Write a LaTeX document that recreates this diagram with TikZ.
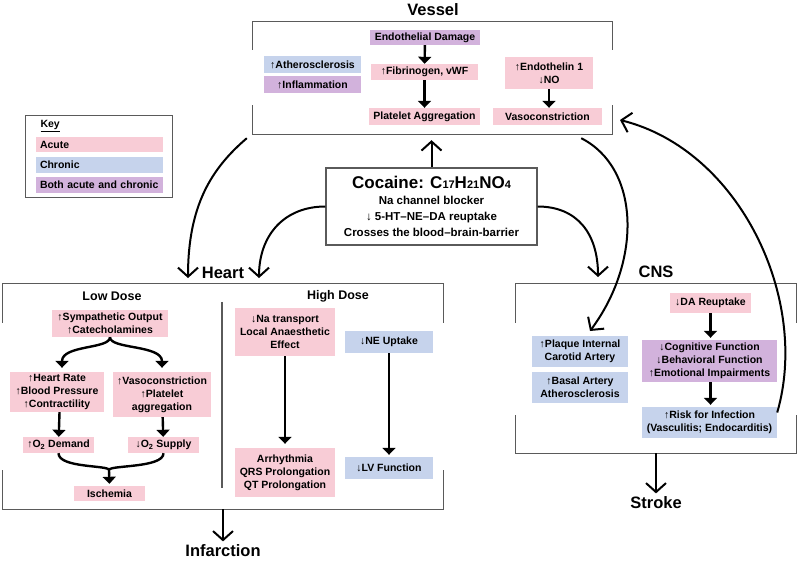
\documentclass[tikz,border=0pt]{standalone}
\usepackage{fontspec}
\setmainfont{Liberation Sans}
\usetikzlibrary{arrows.meta,calc,positioning}

\definecolor{acutecol}{RGB}{248,204,214}
\definecolor{chroncol}{RGB}{198,211,236}
\definecolor{bothcol}{RGB}{210,178,220}
\definecolor{panelcol}{RGB}{90,90,90}

\tikzset{
  tagbox/.style={inner xsep=4pt, inner ysep=2pt, minimum height=16pt, align=center,
    font=\bfseries\fontsize{10.5}{13}\selectfont},
  acute/.style={tagbox, fill=acutecol},
  chronic/.style={tagbox, fill=chroncol},
  both/.style={tagbox, fill=bothcol},
  panel/.style={draw=panelcol, line width=1.2pt},
  region/.style={inner sep=0pt},
  heading/.style={font=\bfseries\fontsize{16.5}{19}\selectfont},
  subheading/.style={font=\bfseries\fontsize{12.5}{14}\selectfont},
  flow/.style={-{Triangle[width=13pt,length=7pt]}, line width=2.4pt},
  bigflow/.style={-{Straight Barb[width=20pt,length=9pt]}, line width=2pt},
}

\begin{document}
\begin{tikzpicture}[x=1pt,y=-1pt]
  \useasboundingbox (0,0) rectangle (800,562);
  % regions
  \node[region, minimum width=359pt, minimum height=112pt] (vessel) at (432.5,78) {};
  \node[region, minimum width=440pt, minimum height=225pt] (heart) at (223,396.5) {};
  \node[region, minimum width=280pt, minimum height=169pt] (cns) at (656,368.5) {};
  \draw[panel] ([yshift=-28pt]vessel.north west) -- (vessel.north west) -- (vessel.north east) -- ([yshift=-28pt]vessel.north east);
  \draw[panel] ([yshift=29pt]vessel.south west) -- (vessel.south west) -- (vessel.south east) -- ([yshift=29pt]vessel.south east);
  \draw[panel] ([yshift=-39pt]heart.north west) -- (heart.north west) -- (heart.north east) -- ([yshift=-39pt]heart.north east);
  \draw[panel] ([yshift=39pt]heart.south west) -- (heart.south west) -- (heart.south east) -- ([yshift=39pt]heart.south east);
  \draw[panel] ([xshift=-1pt,yshift=-18pt]heart.north) -- ([xshift=-1pt,yshift=21pt]heart.south);
  \draw[panel] ([yshift=-39pt]cns.north west) -- (cns.north west) -- (cns.north east) -- ([yshift=-39pt]cns.north east);
  \draw[panel] ([yshift=38pt]cns.south west) -- (cns.south west) -- (cns.south east) -- ([yshift=38pt]cns.south east);
  \node[heading] (vesseltitle) at (433,10) {Vessel};
  \node[heading] (hearttitle) at (223,273) {Heart};
  \node[heading] (cnstitle) at (656,272) {CNS};
  \node[subheading] (lowtitle) at (112,296) {Low Dose};
  \node[subheading] (hightitle) at (338,296) {High Dose};

  % key
  \node[draw=panelcol, line width=1pt, minimum width=147pt, minimum height=82pt] (key) at (98.5,156) {};
  \node[anchor=west, font=\bfseries\fontsize{10.5}{12}\selectfont] (keytitle) at (37,126) {\underline{Key}};
  \node[acute, text width=119pt, align=left, minimum height=15pt] (keyacute) at (99.5,144.5) {Acute};
  \node[chronic, text width=119pt, align=left, minimum height=16pt] (keychronic) at (99.5,165) {Chronic};
  \node[both, text width=119pt, align=left, minimum height=16pt] (keyboth) at (99.5,185) {Both acute and chronic};

  % cocaine
  \node[panel, minimum width=211pt, minimum height=77pt, align=center,
    font=\bfseries\fontsize{11.5}{16}\selectfont] (cocaine) at (431.5,206.5)
    {{\fontsize{17}{18}\selectfont Cocaine: C{\fontsize{11}{11}\selectfont 17}H{\fontsize{11}{11}\selectfont 21}NO{\fontsize{11}{11}\selectfont 4}}\\
     Na channel blocker\\ ↓ 5-HT–NE–DA reuptake\\ Crosses the blood–brain-barrier};

  % vessel
  \node[both, minimum width=110pt, minimum height=15pt] (endo) at (425,37.5) {Endothelial Damage};
  \node[acute, minimum width=107pt] (fib) at (424.5,72) {↑Fibrinogen, vWF};
  \node[acute, minimum width=111pt, minimum height=17pt] (plat) at (424.5,116.5) {Platelet Aggregation};
  \node[chronic, minimum width=97pt, minimum height=17pt] (ather) at (312.5,64.5) {↑Atherosclerosis};
  \node[both, minimum width=97pt, minimum height=17pt] (infl) at (312.5,84.5) {↑Inflammation};
  \node[acute, minimum width=88pt, minimum height=32pt] (endot) at (549,73) {↑Endothelin 1\\↓NO};
  \node[acute, minimum width=109pt, minimum height=17pt] (vaso) at (547.5,116.5) {Vasoconstriction};
  \draw[flow] (endo) -- (fib);
  \draw[flow] (fib) -- (plat);
  \draw[flow] (endot.south) -- (endot.south |- vaso.north);

  % heart, low dose
  \node[acute, minimum width=116pt, minimum height=27pt] (symp) at (110,323.5) {↑Sympathetic Output\\↑Catecholamines};
  \node[acute, minimum width=94pt, minimum height=40pt] (hr) at (57,392) {↑Heart Rate\\↑Blood Pressure\\↑Contractility};
  \node[acute, minimum width=98pt, minimum height=45pt] (vc) at (162,394.5) {↑Vasoconstriction\\↑Platelet\\aggregation};
  \node[acute, minimum width=71pt] (o2d) at (58.5,445) {↑O\textsubscript{2} Demand};
  \node[acute, minimum width=71pt] (o2s) at (163.5,445) {↓O\textsubscript{2} Supply};
  \node[acute, minimum width=71pt, minimum height=15pt] (isch) at (109.5,493.5) {Ischemia};
  \coordinate (merge) at (109,470);
  \draw[flow, shorten >=4pt] (symp.south) .. controls +(0,12) and +(0,-27) .. ([xshift=5pt]hr.north);
  \draw[flow, shorten >=4pt] (symp.south) .. controls +(0,12) and +(0,-27) .. (vc.north);
  \draw[flow] ([xshift=1pt]hr.south -| o2d) -- (o2d);
  \draw[flow] (vc) -- (o2s);
  \draw[flow, shorten >=2pt] (o2d.south) .. controls +(0,15) and +(0,-5) .. (merge) -- (isch.north);
  \draw[line width=2.4pt] (o2s.south) .. controls +(0,15) and +(0,-5) .. (merge);

  % heart, high dose
  \node[acute, minimum width=100pt, minimum height=48pt] (na) at (285,332) {↓Na transport\\Local Anaesthetic\\Effect};
  \node[chronic, minimum width=88pt, minimum height=22pt] (ne) at (389,342) {↓NE Uptake};
  \node[acute, minimum width=100pt, minimum height=49pt] (arr) at (285,472.5) {Arrhythmia\\QRS Prolongation\\QT Prolongation};
  \node[chronic, minimum width=88pt, minimum height=22pt] (lv) at (389,468) {↓LV Function};
  \draw[flow, shorten >=4pt] (na) -- (arr);
  \draw[flow, shorten >=2pt] (ne) -- (lv);

  % CNS
  \node[acute, minimum width=81pt, minimum height=20pt] (da) at (710.5,303) {↓DA Reuptake};
  \node[both, minimum width=135pt, minimum height=42pt] (cog) at (709.5,361) {↓Cognitive Function\\↓Behavioral Function\\↑Emotional Impairments};
  \node[chronic, minimum width=135pt, minimum height=31pt] (risk) at (709.5,422.5) {↑Risk for Infection\\(Vasculitis; Endocarditis)};
  \node[chronic, minimum width=96pt, minimum height=31pt] (plaque) at (580,351.5) {↑Plaque Internal\\Carotid Artery};
  \node[chronic, minimum width=96pt, minimum height=31pt] (basal) at (580,387.5) {↑Basal Artery\\Atherosclerosis};
  \draw[flow, shorten >=2pt] (da.south) -- (da.south |- cog.north);
  \draw[flow, shorten >=2pt] (da.south |- cog.south) -- (da.south |- risk.north);

  % outcomes
  \node[heading] (infarct) at (223,551) {Infarction};
  \node[heading] (stroke) at (656,503) {Stroke};

  % long arrows
  \coordinate (heartL) at (188,278);
  \coordinate (heartR) at (259,278);
  \coordinate (cnsIn) at (598,277);
  \coordinate (plaqueIn) at (590,331);
  \coordinate (vesIn) at (620,120);
  \draw[bigflow] ([xshift=-6pt,yshift=-4pt]vessel.south west) .. controls +(-35,30) and +(0,-73) .. (heartL);
  \draw[bigflow] (cocaine.west) .. controls +(-41,0) and +(0,-43) .. (heartR);
  \draw[bigflow] (cocaine.east) .. controls +(40,0) and +(0,-43) .. (cnsIn);
  \draw[bigflow, shorten >=6pt] (cocaine.north) -- (cocaine.north |- vessel.south);
  \draw[bigflow] ([xshift=-31pt,yshift=-4pt]vessel.south east) .. controls +(59,30) and +(52,-70) .. (plaqueIn);
  \draw[bigflow] ([yshift=10pt]risk.east) .. controls +(33,-113) and +(120,30) .. (vesIn);
  \draw[bigflow] (heart.south) -- (infarct.north);
  \draw[bigflow] (cns.south) -- (stroke.north);
\end{tikzpicture}
\end{document}
